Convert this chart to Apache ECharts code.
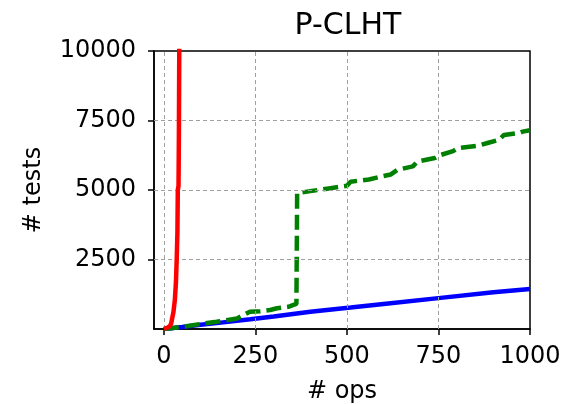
<!DOCTYPE html>
<html>
<head>
<meta charset="utf-8">
<script src="https://cdn.jsdelivr.net/npm/echarts@6/dist/echarts.min.js"></script>
<style>html,body{margin:0;padding:0;background:#fff}#c{width:566px;height:404px}</style>
</head>
<body>
<div id="c"></div>
<script>
const xTicks = [0, 250, 500, 750, 1000];
const yTicks = [2500, 5000, 7500, 10000];
const redX = [0, 5, 10, 16, 20, 22, 26, 30, 33, 35, 37, 38, 40, 41, 42, 44];
const redY = [0, 20, 50, 100, 200, 340, 600, 1050, 1700, 2500, 3500, 5000, 5150, 7000, 10000, 13000];
const blueX = [0, 50, 100, 150, 236, 300, 400, 510, 600, 756, 900, 1000];
const blueY = [0, 70, 150, 220, 350, 450, 620, 770, 900, 1120, 1320, 1440];
const greenX = [0, 20, 53, 100, 144, 200, 217, 235, 263, 290, 309, 340, 354, 362, 364, 400, 455, 500, 510, 560, 592, 620, 637, 680, 692, 740, 756, 790, 802, 860, 884, 915, 929, 970, 980, 1000];
const greenY = [0, 30, 83, 180, 263, 380, 504, 623, 640, 684, 745, 800, 864, 900, 4885, 4960, 5065, 5150, 5300, 5380, 5480, 5560, 5720, 5850, 6020, 6150, 6260, 6400, 6500, 6600, 6690, 6800, 6980, 7050, 7100, 7150];

const zip = (a, b) => a.map((v, i) => [v, b[i]]);
const font = 'DejaVu Sans';
const gridLine = {color: '#a0a0a0', width: 1, type: [4, 3]};
const plain = v => String(v);

const chart = echarts.init(document.getElementById('c'), null, {renderer: 'canvas'});
chart.setOption({
  animation: false,
  title: {text: 'P-CLHT', left: 343, top: 6, textAlign: 'center',
    textStyle: {fontFamily: font, fontSize: 30, fontWeight: 'normal', color: '#000'}},
  grid: {left: 154, right: 36, top: 51, bottom: 75, show: true, borderColor: '#000', borderWidth: 1.5,
    containLabel: false, outerBoundsMode: 'none'},
  xAxis: {
    type: 'value', min: -27, max: 1000,
    name: '# ops', nameLocation: 'middle', nameGap: 51,
    nameTextStyle: {fontFamily: font, fontSize: 24, color: '#000'},
    axisLine: {show: true, onZero: false, lineStyle: {color: '#000', width: 1.5}},
    axisTick: {show: true, length: 6, customValues: xTicks, lineStyle: {color: '#000', width: 1.5}},
    axisLabel: {customValues: xTicks, formatter: plain, margin: 16, fontFamily: font, fontSize: 24, color: '#000'},
    splitLine: {show: false}
  },
  yAxis: {
    type: 'value', min: 0, max: 10000,
    name: '# tests', nameLocation: 'middle', nameGap: 108, nameRotate: 90,
    nameTextStyle: {fontFamily: font, fontSize: 24, color: '#000'},
    axisLine: {show: true, onZero: false, lineStyle: {color: '#000', width: 1.5}},
    axisTick: {show: true, length: 6, customValues: yTicks, lineStyle: {color: '#000', width: 1.5}},
    axisLabel: {customValues: yTicks, formatter: plain, margin: 18, fontFamily: font, fontSize: 24, color: '#000'},
    splitLine: {show: false}
  },
  series: [
    {type: 'line', data: [], z: 1, silent: true,
      markLine: {silent: true, symbol: 'none', label: {show: false}, lineStyle: gridLine, animation: false,
        data: [{xAxis: 0}, {xAxis: 250}, {xAxis: 500}, {xAxis: 750}, {yAxis: 2500}, {yAxis: 5000}, {yAxis: 7500}]}},
    {type: 'line', data: zip(blueX, blueY), showSymbol: false, z: 3,
      lineStyle: {color: '#0000ff', width: 4.5}},
    {type: 'line', data: zip(greenX, greenY), showSymbol: false, z: 4,
      lineStyle: {color: '#008000', width: 4.5, type: [15, 6]}},
    {type: 'line', data: zip(redX, redY), showSymbol: false, z: 5, clip: true,
      lineStyle: {color: '#ff0000', width: 4.5}}
  ]
});
</script>
</body>
</html>
